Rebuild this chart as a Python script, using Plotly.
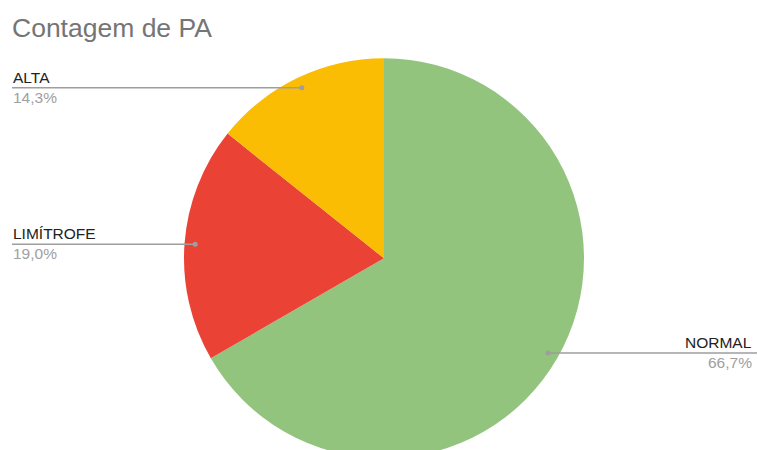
import math
import plotly.graph_objects as go

# Contagem de PA (pressão arterial) por categoria
categorias = ["NORMAL", "LIMÍTROFE", "ALTA"]
contagens = [14, 4, 3]
cores = ["#93c47d", "#ea4335", "#fbbc04"]

W, H = 758, 470          # canvas a bit taller than the window, so the pie's bottom is clipped
CX, CY, R = 384.0, 258.3, 200.0   # pie centre and radius in pixels (from top-left)
FONT = "Arial, 'Liberation Sans', sans-serif"


def px(x):
    return x / W


def py(y):
    return 1 - y / H


fig = go.Figure(
    go.Pie(
        labels=categorias,
        values=contagens,
        sort=False,
        direction="clockwise",
        rotation=0,
        marker=dict(colors=cores, line=dict(width=0)),
        textinfo="none",
        hoverinfo="label+percent",
        showlegend=False,
        domain=dict(x=[px(CX - R), px(CX + R)], y=[py(CY + R), py(CY - R)]),
    )
)

total = sum(contagens)
shapes, annotations = [], []
acum = 0
for cat, val in zip(categorias, contagens):
    frac = val / total
    meio = (acum + frac / 2) * 2 * math.pi   # clockwise from 12 o'clock
    acum += frac
    dx, dy = CX + 0.947 * R * math.sin(meio), CY - 0.947 * R * math.cos(meio)
    direita = math.sin(meio) > 0
    x_fim = 757 if direita else 12
    x_txt = 753 if direita else 12
    shapes.append(dict(type="line", xref="paper", yref="paper",
                       x0=px(dx), y0=py(dy), x1=px(x_fim), y1=py(dy),
                       line=dict(color="#9e9e9e", width=1.5)))
    shapes.append(dict(type="circle", xref="paper", yref="paper",
                       x0=px(dx - 2.5), x1=px(dx + 2.5), y0=py(dy - 2.5), y1=py(dy + 2.5),
                       fillcolor="#9e9e9e", line=dict(width=0)))
    anchor = "right" if direita else "left"
    pct = f"{frac * 100:.1f}%".replace(".", ",")
    annotations.append(dict(xref="paper", yref="paper", x=px(x_txt), y=py(dy - 1),
                            xanchor=anchor, yanchor="bottom", text=cat, showarrow=False,
                            font=dict(family=FONT, size=15.5, color="#222222"), borderpad=0))
    annotations.append(dict(xref="paper", yref="paper", x=px(x_txt), y=py(dy),
                            xanchor=anchor, yanchor="top", text=pct, showarrow=False,
                            font=dict(family=FONT, size=15.5, color="#a0a0a0"), borderpad=0))

annotations.append(dict(xref="paper", yref="paper", x=px(11), y=py(11.5),
                        xanchor="left", yanchor="top", text="Contagem de PA", showarrow=False,
                        font=dict(family=FONT, size=26.5, color="#757575"), borderpad=0))

fig.update_layout(
    width=W, height=H,
    margin=dict(l=0, r=0, t=0, b=0),
    paper_bgcolor="white", plot_bgcolor="white",
    shapes=shapes, annotations=annotations,
)

fig.write_html("out.html", post_script="document.body.style.overflow='hidden';",
               config=dict(displayModeBar=False))
